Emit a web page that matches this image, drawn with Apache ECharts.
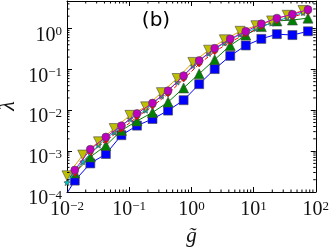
<!DOCTYPE html>
<html><head><meta charset="utf-8">
<script src="https://cdn.jsdelivr.net/npm/echarts@6/dist/echarts.min.js"></script>
<style>html,body{margin:0;padding:0;background:#fff}#c{width:332px;height:252px}</style>
</head><body><div id="c"></div>
<script>
// x grids (log spaced)
const xGridA = [0.0075, 0.01334, 0.02371, 0.04217, 0.0750, 0.1334, 0.2371, 0.4217, 0.750, 1.334, 2.371, 4.217, 7.50, 13.34, 23.71, 42.17, 75.0];
const xGridB = [0.0100, 0.0179, 0.0321, 0.0574, 0.1028, 0.184, 0.330, 0.590, 1.057, 1.89, 3.39, 6.07, 10.9, 19.5, 34.8, 62.4];
// series values (lambda)
const blueY    = [4.6e-5, 1.9e-4, 5.0e-4, 8.5e-4, 2.45e-3, 4.2e-3, 6.1e-3, 9.8e-3, 0.0176, 0.0434, 0.1016, 0.214, 0.384, 0.557, 0.727, 0.69, 0.853];
const greenY   = [null, 2.93e-4, 7.2e-4, 1.37e-3, 3.2e-3, 5.46e-3, 8.8e-3, 0.0158, 0.0351, 0.0778, 0.173, 0.384, 0.689, 1.11, 1.53, 1.61, 1.79];
const redY     = [null, 2.8e-4, 9.0e-4, 1.8e-3, 3.4e-3, 6.8e-3, 0.0125, 0.025, 0.058, 0.135, 0.27, 0.47, 0.72, 1.1, 1.52, 1.9, 2.5];
const magentaY = [null, 3.44e-4, 1.11e-3, 2.21e-3, 4.18e-3, 8.3e-3, 0.015, 0.0299, 0.070, 0.164, 0.327, 0.557, 0.853, 1.30, 1.79, 2.22, 2.90];
const cyanY    = [1.7e-4, 5.5e-4, 1.4e-3, 2.9e-3, 6.1e-3, 0.0100, 0.0222, 0.049, 0.122, 0.245, 0.445, 0.72, 1.0, 1.35, 1.85, 2.45];
const yellowY  = [2.49e-4, 8.0e-4, 1.69e-3, 3.56e-3, 7.5e-3, 0.0121, 0.0269, 0.0597, 0.148, 0.294, 0.528, 0.853, 1.17, 1.53, 2.10, 2.75];
const X_MIN = 0.01, X_MAX = 100, Y_MIN = 1e-4, Y_MAX = 4.7;
const titleText = '(b)';
const xName = 'g\u0303', yName = '\u03bb';

function pairs(xs, ys){ const out=[]; for(let i=0;i<xs.length;i++){ if(ys[i]!=null) out.push([xs[i], ys[i]]);} return out; }
const xMinor=[], yMinor=[];
for(let e=-2;e<2;e++) for(let m=2;m<10;m++) xMinor.push(m*Math.pow(10,e));
for(let e=-4;e<1;e++) for(let m=2;m<10;m++){ const v=m*Math.pow(10,e); if(v<Y_MAX) yMinor.push(v); }

const serifF = 'Liberation Serif';
function sup(v){ const e=Math.round(Math.log10(v)); return '{b|10}{s|'+(e<0?'\u2212'+(-e):e)+'}'; }
const rich = { b:{fontFamily:serifF,fontSize:20,color:'#111'}, s:{fontFamily:serifF,fontSize:13,color:'#111',verticalAlign:'top'} };
const tickStyle = {color:'#000', width:1};
const star = 'path://M0,-10L2.9,-4L9.5,-3.1L4.7,1.5L5.9,8.1L0,5L-5.9,8.1L-4.7,1.5L-9.5,-3.1L-2.9,-4Z';

function lineSeries(name, data, color, lineColor, symbol, size, z, dashed){
  return {name, type:'line', data, symbol, symbolSize:size, z,
    lineStyle:{color:lineColor, width:1, type: dashed?'dashed':'solid'},
    itemStyle:{color, borderColor:'#444', borderWidth:0.6}, clip:true};
}

const chart = echarts.init(document.getElementById('c'), null, {renderer:'canvas'});
chart.setOption({
  animation:false,
  graphic:[
    {type:'text', x:156, y:21, z:20, style:{text:titleText, fontFamily:'DejaVu Sans', fontSize:20, fill:'#000', textAlign:'center', textVerticalAlign:'middle'}},
    {type:'text', x:8, y:106, rotation:Math.PI/2, z:20, style:{text:yName, fontFamily:serifF, fontStyle:'italic', fontSize:22, fill:'#111', textAlign:'center', textVerticalAlign:'middle'}}
  ],
  grid:{left:67, right:14, top:1, bottom:49},
  xAxis:[
    {type:'log', min:X_MIN, max:X_MAX, position:'bottom',
     axisLine:{lineStyle:tickStyle}, axisTick:{inside:true, length:5, lineStyle:tickStyle},
     axisLabel:{formatter:sup, rich, margin:8}, splitLine:{show:false},
     name:xName, nameLocation:'middle', nameGap:34, nameTextStyle:{fontFamily:serifF, fontStyle:'italic', fontSize:21, color:'#111'}},
    {type:'log', min:X_MIN, max:X_MAX, position:'top',
     axisLine:{lineStyle:tickStyle}, axisTick:{inside:true, length:5, lineStyle:tickStyle},
     axisLabel:{show:false}, splitLine:{show:false}}
  ],
  yAxis:[
    {type:'log', min:Y_MIN, max:Y_MAX, position:'left',
     axisLine:{lineStyle:tickStyle}, axisTick:{inside:true, length:5, lineStyle:tickStyle},
     axisLabel:{formatter:sup, rich, margin:5, showMaxLabel:false, padding:[14,0,0,0]}, splitLine:{show:false}},
    {type:'log', min:Y_MIN, max:Y_MAX, position:'right',
     axisLine:{lineStyle:tickStyle}, axisTick:{inside:true, length:5, lineStyle:tickStyle},
     axisLabel:{show:false}, splitLine:{show:false}}
  ],
  series:[
    lineSeries('blue', pairs(xGridA, blueY), '#0000ff', '#0000ff', 'rect', 9, 2),
    lineSeries('green', pairs(xGridA, greenY), '#008000', '#008000', 'triangle', 10, 3),
    lineSeries('red', pairs(xGridA, redY), '#ff0000', '#ff0000', 'diamond', 6, 4, true),
    lineSeries('cyan', pairs(xGridB, cyanY), '#00bfbf', '#00bfbf', star, 6, 5),
    lineSeries('yellow', pairs(xGridB, yellowY), '#bfbf00', '#e0a000', 'path://M-10,-8L10,-8L0,9Z', 10, 6),
    lineSeries('magenta', pairs(xGridA, magentaY), '#bf00bf', '#bf00bf', 'circle', 8, 7),
    {type:'custom', silent:true, z:10, data:xMinor.map(v=>[v, Y_MIN]), clip:false,
     renderItem:(p, api)=>{ const b=api.coord([api.value(0), Y_MIN]); const t=api.coord([api.value(0), Y_MAX]);
       return {type:'group', children:[
         {type:'line', shape:{x1:b[0],y1:b[1],x2:b[0],y2:b[1]-2.5}, style:{stroke:'#000', lineWidth:1}},
         {type:'line', shape:{x1:t[0],y1:t[1],x2:t[0],y2:t[1]+2.5}, style:{stroke:'#000', lineWidth:1}}]}; }},
    {type:'custom', silent:true, z:10, data:yMinor.map(v=>[X_MIN, v]), clip:false,
     renderItem:(p, api)=>{ const l=api.coord([X_MIN, api.value(1)]); const r=api.coord([X_MAX, api.value(1)]);
       return {type:'group', children:[
         {type:'line', shape:{x1:l[0],y1:l[1],x2:l[0]+2.5,y2:l[1]}, style:{stroke:'#000', lineWidth:1}},
         {type:'line', shape:{x1:r[0],y1:r[1],x2:r[0]-2.5,y2:r[1]}, style:{stroke:'#000', lineWidth:1}}]}; }}
  ]
});
</script></body></html>
